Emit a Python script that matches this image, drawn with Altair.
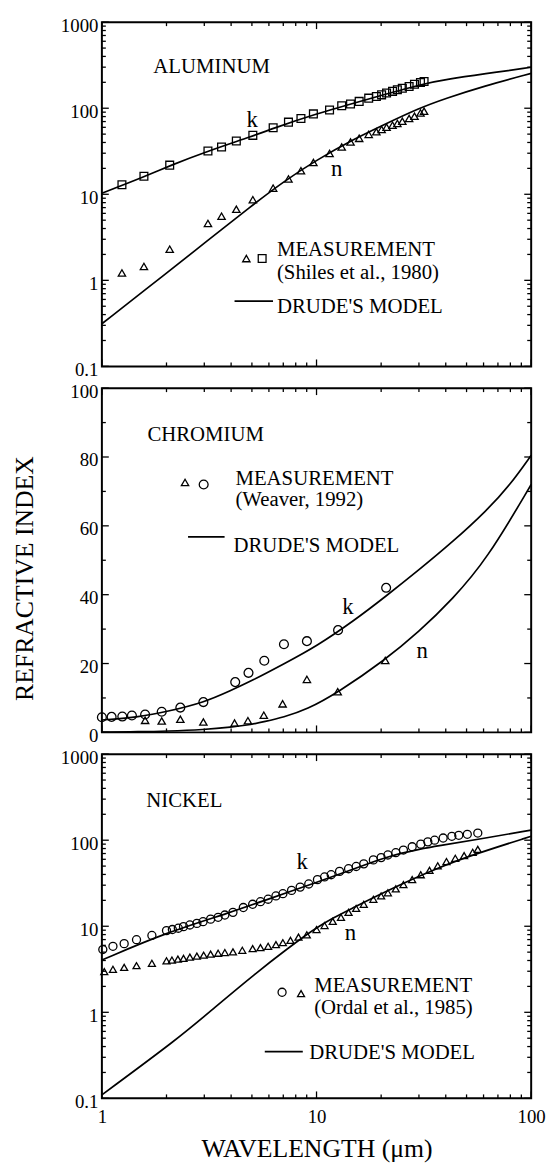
import altair as alt
import pandas as pd

FONT = "Liberation Serif, Times New Roman, Times, serif"
W, H = 434, 348

# ---------------- ALUMINUM (Shiles et al., 1980) ----------------
al_x = [1.24, 1.57, 2.07, 3.12, 3.61, 4.23, 5.05, 6.28, 7.40, 8.46, 9.67, 11.5, 13.1,
        14.4, 15.8, 17.5, 19.0, 20.1, 21.2, 22.6, 23.8, 25.1, 27.0, 28.6, 30.5, 31.7]
al_k = [12.9, 16.2, 21.8, 31.9, 35.5, 41.6, 48.4, 59.3, 68.9, 75.9, 85.9, 95.5, 107,
        112, 120, 131, 137, 143, 150, 157, 164, 171, 179, 190, 199, 204]
al_n = [1.22, 1.45, 2.30, 4.58, 5.56, 6.69, 8.65, 11.8, 15.1, 18.8, 23.4, 29.8, 35.5,
        40.5, 44.7, 49.7, 53.3, 56.7, 60.3, 63.6, 66.5, 70.6, 75.9, 80.7, 88.2, 92.2]
al_dk_x = [1, 1.57, 2.07, 3.12, 5.05, 6.28, 9.67, 17.5, 31.7, 41.4, 60.1, 100]
al_dk_y = [10.3, 15.9, 21.5, 31.8, 47.5, 58.2, 84.4, 128, 194, 219, 250, 299]
al_dn_x = [1, 2, 3, 5, 7, 10, 15, 20, 30, 40, 60, 100]
al_dn_y = [0.313, 1.21, 2.7, 7.4, 14.0, 25, 44, 62, 100, 130, 180, 254]

# ---------------- CHROMIUM (Weaver, 1992) ----------------
cr_k_x = [1.0, 1.11, 1.245, 1.38, 1.59, 1.90, 2.32, 2.97, 4.18, 4.82, 5.71, 7.05, 9.02, 12.6, 21.1]
cr_k_y = [4.4, 4.5, 4.6, 4.9, 5.2, 6.0, 7.2, 8.8, 14.6, 17.3, 20.8, 25.6, 26.5, 29.7, 42.0]
cr_n_x = [1.59, 1.90, 2.32, 2.97, 4.15, 4.79, 5.68, 6.95, 9.02, 12.55, 20.9]
cr_n_y = [3.5, 3.3, 3.8, 3.0, 2.7, 3.4, 5.0, 8.3, 15.4, 11.8, 20.9]
cr_dk_x = [1, 1.5, 2, 3, 4, 5, 7, 10, 15, 21, 30, 43, 62, 80, 100]
cr_dk_y = [3.6, 4.5, 6.0, 8.7, 12.2, 15.0, 19.8, 25.0, 32.5, 39.5, 47.2, 55.3, 64.4, 72.0, 80.5]
cr_dn_x = [1, 1.5, 2, 3, 4, 5, 5.7, 7, 9, 12.6, 20.7, 30, 43, 62, 100]
cr_dn_y = [0.1, 0.2, 0.35, 0.8, 1.5, 2.3, 3.1, 4.4, 6.6, 11.6, 20.9, 29.2, 38.7, 50.1, 72.0]

# ---------------- NICKEL (Ordal et al., 1985) ----------------
ni_k_x = [1.01, 1.126, 1.27, 1.45, 1.71, 2.0, 2.13, 2.27, 2.40, 2.57, 2.77, 2.96, 3.21, 3.48,
          3.74, 4.08, 4.56, 5.04, 5.48, 5.95, 6.47, 6.97, 7.65, 8.39, 9.2, 10.1, 10.9, 11.7,
          12.8, 14.1, 15.3, 16.6, 18.4, 20.0, 21.5, 23.4, 25.4, 27.9, 30.6, 33.0, 35.5, 38.9,
          42.7, 46.0, 50.4, 56.4]
ni_k_y = [5.36, 5.85, 6.28, 6.98, 7.82, 8.9, 9.16, 9.48, 9.9, 10.35, 10.8, 11.3, 12.1, 12.7,
          13.5, 14.5, 16.5, 18.0, 19.3, 20.6, 22.5, 23.9, 26.1, 28.5, 31.0, 34.8, 37.4, 39.7,
          43.4, 46.6, 49.5, 53.1, 59.0, 62.8, 67.3, 71.6, 76.8, 83.9, 90.0, 95.7, 100, 106,
          111, 114, 117, 121]
ni_n_x = [1.026, 1.126, 1.27, 1.45, 1.71, 2.0, 2.12, 2.26, 2.40, 2.57, 2.77, 2.98, 3.21, 3.48,
          3.74, 4.08, 4.51, 5.04, 5.48, 5.95, 6.47, 6.97, 7.56, 8.24, 9.01, 10.0, 10.9, 11.9,
          13.0, 14.1, 15.3, 16.6, 18.4, 20.0, 21.5, 23.4, 25.4, 27.9, 30.6, 33.6, 36.7, 40.3,
          44.3, 48.7, 53.4, 56.4]
ni_n_y = [2.97, 3.16, 3.33, 3.48, 3.71, 3.97, 4.05, 4.15, 4.23, 4.38, 4.50, 4.61, 4.74, 4.86,
          4.95, 5.04, 5.26, 5.50, 5.65, 5.85, 6.11, 6.44, 6.85, 7.48, 7.96, 9.17, 10.2, 11.4,
          12.7, 14.5, 16.1, 18.0, 20.6, 22.5, 24.5, 27.2, 30.5, 34.9, 39.7, 44.6, 50.4, 56.5,
          61.7, 66.2, 72.3, 78.2]
ni_dk_x = [1, 2, 4, 5.8, 10, 14.6, 17.5, 21, 25, 30, 36.7, 56, 100]
ni_dk_y = [4.05, 8.5, 14.5, 20.2, 32.4, 45.3, 53.8, 62.8, 71.0, 78.4, 85.8, 102, 131]
ni_dn_x = [1, 2.3, 3.3, 5.2, 7.5, 9, 10, 12, 14.6, 21, 36.7, 56, 100]
ni_dn_y = [0.11, 0.51, 1.1, 2.84, 5.75, 8.0, 9.6, 12.6, 16.1, 25.5, 48.0, 70.3, 111]

# ---------------- axis ticks ----------------
X_MAJOR = [1, 10, 100]
X_MINOR = [2, 3, 4, 5, 6, 7, 8, 9, 20, 30, 40, 50, 60, 70, 80, 90]
LOG_MAJOR = [0.1, 1, 10, 100, 1000]
LOG_MINOR = [round(m * d, 3) for d in (0.1, 1, 10, 100) for m in range(2, 10)]
LIN_MAJOR = [0, 20, 40, 60, 80, 100]
LIN_MINOR = [10, 30, 50, 70, 90]

XSC = alt.Scale(type="log", domain=[1, 100], nice=False)
MAJOR_LEN, MINOR_LEN = 7, 4


def curves(kx, ky, nx, ny):
    return pd.DataFrame(
        {"x": kx + nx, "y": ky + ny, "s": ["k"] * len(kx) + ["n"] * len(nx)}
    )


def pts(xs, ys):
    return pd.DataFrame({"x": xs, "y": ys})


def tick_marks(ysc, ymaj, ymin):
    """Inward tick marks on all four sides, drawn at the tick values through the scales."""
    out = []
    for vals, ln in ((X_MAJOR, MAJOR_LEN), (X_MINOR, MINOR_LEN)):
        d = pd.DataFrame({"x": vals})
        out.append(alt.Chart(d).mark_rule(color="black", strokeWidth=1.3).encode(
            x=alt.X("x:Q", scale=XSC, axis=None), y=alt.value(0), y2=alt.value(ln)))
        out.append(alt.Chart(d).mark_rule(color="black", strokeWidth=1.3).encode(
            x=alt.X("x:Q", scale=XSC, axis=None), y=alt.value(H - ln), y2=alt.value(H)))
    for vals, ln in ((ymaj, MAJOR_LEN), (ymin, MINOR_LEN)):
        d = pd.DataFrame({"y": vals})
        out.append(alt.Chart(d).mark_rule(color="black", strokeWidth=1.3).encode(
            y=alt.Y("y:Q", scale=ysc, axis=None), x=alt.value(0), x2=alt.value(ln)))
        out.append(alt.Chart(d).mark_rule(color="black", strokeWidth=1.3).encode(
            y=alt.Y("y:Q", scale=ysc, axis=None), x=alt.value(W - ln), x2=alt.value(W)))
    return out


def panel(drude, series, notes_left, notes_center, legend_line, ysc, ymaj, ymin,
          show_x=False, ytitle=False):
    layers = []
    # label axes
    if show_x:
        xaxis = alt.Axis(orient="bottom", values=X_MAJOR, ticks=False, domain=False,
                         grid=False, labelFlush=False, labelPadding=9,
                         labelExpr="datum.value",
                         labelFont=FONT, labelFontSize=19, labelColor="black",
                         titleFont=FONT, titleFontSize=26, titleFontWeight="normal",
                         titleColor="black", titleY=59, titleBaseline="alphabetic")
        xenc = alt.X("x:Q", scale=XSC, title="WAVELENGTH (\u03bcm)", axis=xaxis)
    else:
        xenc = alt.X("x:Q", scale=XSC, axis=None)
    yaxis_kw = dict(orient="left", values=ymaj, ticks=False, domain=False, grid=False,
                    labelPadding=4, labelOffset=3, labelExpr="datum.value",
                    labelFont=FONT, labelFontSize=19, labelColor="black")
    if ytitle:
        yaxis = alt.Axis(titleFont=FONT, titleFontSize=26, titleFontWeight="normal",
                         titleColor="black", titleAngle=270, titleX=-78, titleY=192,
                         titleAlign="center", titleBaseline="middle", **yaxis_kw)
        yenc = alt.Y("y:Q", scale=ysc, title="REFRACTIVE INDEX", axis=yaxis)
    else:
        yenc = alt.Y("y:Q", scale=ysc, title=None, axis=alt.Axis(**yaxis_kw))
    layers.append(alt.Chart(drude).mark_point(opacity=0).encode(x=xenc, y=yenc))

    layers += tick_marks(ysc, ymaj, ymin)

    # Drude model curves
    layers.append(
        alt.Chart(drude).mark_line(color="black", strokeWidth=1.7, interpolate="basis").encode(
            x=alt.X("x:Q", scale=XSC, axis=None),
            y=alt.Y("y:Q", scale=ysc, axis=None),
            detail="s:N",
        )
    )
    # legend line sample
    layers.append(
        alt.Chart(legend_line).mark_line(color="black", strokeWidth=1.7).encode(
            x=alt.X("x:Q", scale=XSC, axis=None),
            y=alt.Y("y:Q", scale=ysc, axis=None),
        )
    )
    # measurement points (and legend symbols)
    for df, shape, size in series:
        layers.append(
            alt.Chart(df).mark_point(shape=shape, filled=False, color="black",
                                     size=size, strokeWidth=1.3, opacity=1).encode(
                x=alt.X("x:Q", scale=XSC, axis=None),
                y=alt.Y("y:Q", scale=ysc, axis=None),
            )
        )
    layers.append(
        alt.Chart(notes_left).mark_text(align="left", baseline="alphabetic", font=FONT,
                                        fontSize=21, color="black").encode(
            x=alt.X("x:Q", scale=XSC, axis=None),
            y=alt.Y("y:Q", scale=ysc, axis=None),
            text="t:N",
        )
    )
    layers.append(
        alt.Chart(notes_center).mark_text(align="center", baseline="alphabetic", font=FONT,
                                          fontSize=23, color="black").encode(
            x=alt.X("x:Q", scale=XSC, axis=None),
            y=alt.Y("y:Q", scale=ysc, axis=None),
            text="t:N",
        )
    )
    return (
        alt.layer(*layers)
        .resolve_axis(x="independent", y="independent")
        .properties(width=W, height=H)
    )


def notes(items):
    return pd.DataFrame({"t": [i[0] for i in items], "x": [i[1] for i in items],
                         "y": [i[2] for i in items]})


LOGY = alt.Scale(type="log", domain=[0.1, 1000], nice=False)
LINY = alt.Scale(type="linear", domain=[0, 100], nice=False, zero=True)

p1 = panel(
    curves(al_dk_x, al_dk_y, al_dn_x, al_dn_y),
    [
        (pts(al_x, al_k), "square", 62),
        (pts(al_x, al_n), "triangle-up", 55),
        (pts([5.58], [1.79]), "square", 62),
        (pts([4.71], [1.79]), "triangle-up", 55),
    ],
    notes([("ALUMINUM", 1.737, 259), ("MEASUREMENT", 6.54, 1.94),
           ("(Shiles et al., 1980)", 6.54, 1.03), ("DRUDE'S MODEL", 6.54, 0.418)]),
    notes([("k", 5.02, 60.5), ("n", 12.4, 16.1)]),
    pts([4.15, 6.27], [0.574, 0.574]),
    LOGY, LOG_MAJOR, LOG_MINOR,
)

p2 = panel(
    curves(cr_dk_x, cr_dk_y, cr_dn_x, cr_dn_y),
    [
        (pts(cr_k_x, cr_k_y), "circle", 80),
        (pts(cr_n_x, cr_n_y), "triangle-up", 55),
        (pts([2.98], [72.0]), "circle", 80),
        (pts([2.44], [72.6]), "triangle-up", 55),
    ],
    notes([("CHROMIUM", 1.63, 84.6), ("MEASUREMENT", 4.19, 72.0),
           ("(Weaver, 1992)", 4.19, 65.9), ("DRUDE'S MODEL", 4.10, 52.4)]),
    notes([("k", 14.0, 34.3), ("n", 31.1, 21.7)]),
    pts([2.52, 3.73], [56.8, 56.8]),
    LINY, LIN_MAJOR, LIN_MINOR, ytitle=True,
)

p3 = panel(
    curves(ni_dk_x, ni_dk_y, ni_dn_x, ni_dn_y),
    [
        (pts(ni_k_x, ni_k_y), "circle", 66),
        (pts(ni_n_x, ni_n_y), "triangle-up", 50),
        (pts([6.91], [1.71]), "circle", 66),
        (pts([8.47], [1.65]), "triangle-up", 50),
    ],
    notes([("NICKEL", 1.61, 246), ("MEASUREMENT", 9.75, 1.74),
           ("(Ordal et al., 1985)", 9.75, 0.948), ("DRUDE'S MODEL", 9.24, 0.288)]),
    notes([("k", 8.57, 46.4), ("n", 14.4, 6.90)]),
    pts([5.74, 8.63], [0.350, 0.350]),
    LOGY, LOG_MAJOR, LOG_MINOR, show_x=True,
)

chart = (
    alt.vconcat(p1, p2, p3, spacing=22, bounds="flush")
    .properties(padding={"left": 11, "top": 9, "right": 0, "bottom": 0}, background="white")
    .configure_view(stroke="black", strokeWidth=2)
)

chart.save("out.html", embed_options={"renderer": "svg", "actions": False})
